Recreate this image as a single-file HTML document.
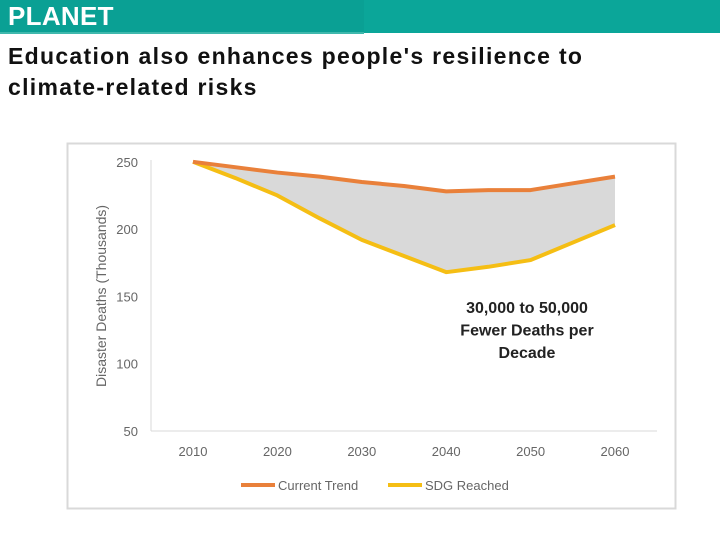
<!DOCTYPE html>
<html><head><meta charset="utf-8"><style>
body{margin:0;width:720px;height:540px;background:#fff;overflow:hidden;font-family:"Liberation Sans",sans-serif;position:relative}
#band{position:absolute;left:0;top:0;width:720px;height:33px;background:#0ba699}
#band-left{position:absolute;left:0;top:0;width:364px;height:32px;background:#0aa094;border-bottom:2px solid #3fb8ad}
#tag{position:absolute;left:8px;top:1px;color:#fff;font-weight:bold;font-size:26px;letter-spacing:0.3px}
#title{position:absolute;left:8px;top:41px;font-size:23px;line-height:31px;color:#111;font-weight:bold;letter-spacing:1.3px;white-space:nowrap}
svg{position:absolute;left:0;top:0}
</style></head><body>
<div id="band"></div>
<div id="band-left"></div>
<div id="tag">PLANET</div>
<div id="title">Education also enhances people's resilience to<br>climate-related risks</div>
<svg id="chart" width="720" height="540"></svg>
<script>
const years=[2010,2015,2020,2025,2030,2035,2040,2045,2050,2055,2060];
const currentTrend=[250,246,242,239,235,232,228,229,229,234,239];
const sdgReached=[250,238,225,208,192,180,168,172,177,190,203];
const yTicks=[50,100,150,200,250];
const xTicks=[2010,2020,2030,2040,2050,2060];
const NS="http://www.w3.org/2000/svg";
const svg=document.getElementById('chart');
const X=v=>193+(v-2010)*8.44;
const Y=v=>431-(v-50)*1.346;
function mk(t,a,p){const e=document.createElementNS(NS,t);for(const k in a)e.setAttribute(k,a[k]);(p||svg).appendChild(e);return e;}
const frame=mk('rect',{x:67.5,y:143.5,width:608,height:365,fill:'#fff',stroke:'#d9d9d9','stroke-width':2});


const yax=mk('line',{x1:151,y1:160,x2:151,y2:431,stroke:'#d9d9d9'});


const xax=mk('line',{x1:151,y1:431,x2:657,y2:431,stroke:'#d9d9d9'});


yTicks.forEach(v=>{const t=mk('text',{x:138,y:Y(v)+5,'text-anchor':'end','font-size':13,fill:'#666'});t.textContent=v;

});
xTicks.forEach(v=>{const t=mk('text',{x:X(v),y:456,'text-anchor':'middle','font-size':13,fill:'#666'});t.textContent=v;

});
const yt=mk('text',{x:0,y:0,transform:'translate(106,296) rotate(-90)','text-anchor':'middle','font-size':14,fill:'#666'});yt.textContent='Disaster Deaths (Thousands)';


let pts=years.map((y,i)=>X(y)+','+Y(currentTrend[i]));
let pts2=years.map((y,i)=>X(y)+','+Y(sdgReached[i])).reverse();
const area=mk('polygon',{points:pts.concat(pts2).join(' '),fill:'#d9d9d9'});


const l2=mk('polyline',{points:years.map((y,i)=>X(y)+','+Y(sdgReached[i])).join(' '),fill:'none',stroke:'#f5be14','stroke-width':4,'stroke-linejoin':'round'});


const l1=mk('polyline',{points:pts.join(' '),fill:'none',stroke:'#e9803a','stroke-width':4,'stroke-linejoin':'round'});


['30,000 to 50,000','Fewer Deaths per','Decade'].forEach((s,i)=>{const t=mk('text',{x:527,y:313+i*22.5,'text-anchor':'middle','font-size':16,'font-weight':'bold',fill:'#222'});t.textContent=s;

});
[[241,'#e9803a','Current Trend'],[388,'#f5be14','SDG Reached']].forEach(([x,c,s])=>{
const g=mk('g',{});


mk('line',{x1:x,y1:485,x2:x+34,y2:485,stroke:c,'stroke-width':4},g);
const t=mk('text',{x:x+37,y:490,'font-size':13,fill:'#666'},g);t.textContent=s;});
</script>
</body></html>
